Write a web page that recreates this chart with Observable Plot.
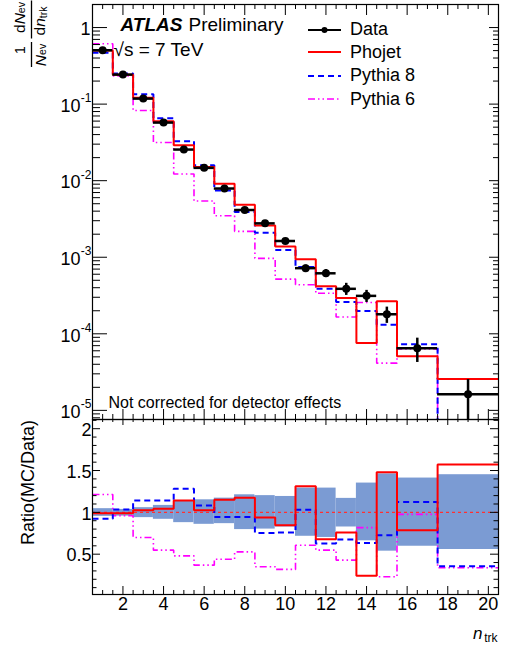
<!DOCTYPE html>
<html><head><meta charset="utf-8">
<script src="https://cdn.jsdelivr.net/npm/d3@7"></script>
<script src="https://cdn.jsdelivr.net/npm/@observablehq/plot@0.6"></script>
<style>
body{margin:0;background:#fff;font-family:"Liberation Sans",Arial,Helvetica,sans-serif;}
#wrap{position:relative;width:506px;height:653px;overflow:hidden;background:#fff;}
#top,#bot{position:absolute;left:0;}
#top{top:0;}
#bot{top:419px;}
#ylab{position:absolute;left:0;top:0;}
.lg{position:absolute;left:308px;height:23px;display:flex;align-items:center;font-size:18px;color:#000;}
.lg svg{margin-right:9px;}
</style></head><body>
<div id="wrap">
<div id="top"></div><div id="bot"></div>
<svg id="ylab" width="60" height="75" font-family="Liberation Sans, Arial, Helvetica, sans-serif" fill="#000">
  <g transform="translate(24.5,17.5) rotate(-90)"><text text-anchor="middle" font-size="15.5">d<tspan font-style="italic">N</tspan><tspan font-size="10.5" dy="0.5">ev</tspan></text></g>
  <line x1="31.5" y1="0.5" x2="31.5" y2="38.5" stroke="#000" stroke-width="1.3"/>
  <g transform="translate(45,21) rotate(-90)"><text text-anchor="middle" font-size="15.5">d<tspan font-style="italic">n</tspan><tspan font-size="10.5" dy="2">trk</tspan></text></g>
  <g transform="translate(24.5,50) rotate(-90)"><text text-anchor="middle" font-size="14">1</text></g>
  <line x1="31.5" y1="42" x2="31.5" y2="67" stroke="#000" stroke-width="1.3"/>
  <g transform="translate(45.5,55) rotate(-90)"><text text-anchor="middle" font-size="15.5"><tspan font-style="italic">N</tspan><tspan font-size="10.5" dy="0.5">ev</tspan></text></g>
</svg>
<div class="lg" style="top:18px"><svg width="33" height="10"><line x1="0" y1="5" x2="33" y2="5" stroke="#000" stroke-width="2"/><circle cx="16.5" cy="5" r="3" fill="#000"/></svg><span>Data</span></div>
<div class="lg" style="top:40.5px"><svg width="33" height="10"><line x1="0" y1="5" x2="33" y2="5" stroke="#ff0000" stroke-width="2"/></svg><span>Phojet</span></div>
<div class="lg" style="top:64px"><svg width="33" height="10"><line x1="0" y1="5" x2="33" y2="5" stroke="#0000ff" stroke-width="2" stroke-dasharray="6,4"/></svg><span>Pythia 8</span></div>
<div class="lg" style="top:87.5px"><svg width="33" height="10"><line x1="0" y1="5" x2="33" y2="5" stroke="#ff00ff" stroke-width="1.6" stroke-dasharray="7,3,1.5,3,1.5,3"/></svg><span>Pythia 6</span></div>
</div>
<script>
// ---- data ----
const binLo = [0.5,1.5,2.5,3.5,4.5,5.5,6.5,7.5,8.5,9.5,10.5,11.5,12.5,13.5,14.5,15.5,17.5];
const binHi = [1.5,2.5,3.5,4.5,5.5,6.5,7.5,8.5,9.5,10.5,11.5,12.5,13.5,14.5,15.5,17.5,20.5];
const nTrk  = [1,2,3,4,5,6,7,8,9,10,11,12,13,14,15,16.5,19];
const dataVal = [0.505,0.243,0.118,0.0574,0.0255,0.0147,0.0079,0.00414,0.00277,0.00163,7.2e-4,6.17e-4,3.87e-4,3.13e-4,1.80e-4,6.5e-5,1.63e-5];
const dataRelErr = [0.004,0.005,0.006,0.008,0.01,0.012,0.015,0.02,0.04,0.06,0.1,0.12,0.18,0.18,0.24,0.35,0.55];
const phojetVal  = [0.50,0.241,0.121,0.0599,0.0291,0.01505,0.00909,0.00486,0.00260,0.00138,9.45e-4,4.19e-4,2.93e-4,7.6e-5,2.66e-4,5.1e-5,2.56e-5];
const pythia8Val = [0.467,0.2515,0.1349,0.0656,0.0327,0.01592,0.00746,0.00391,0.00209,0.00124,7.43e-4,3.87e-4,2.61e-4,1.99e-4,1.31e-4,7.3e-5,5.8e-6];
const pythia6Val = [0.613,0.233,0.0826,0.0315,0.01224,0.00542,0.00348,0.00218,9.67e-4,5.18e-4,4.37e-4,3.38e-4,1.66e-4,2.56e-4,4.14e-5,6.34e-5,5.5e-6];
const ratioPhojet  = [0.99,0.99,1.024,1.044,1.143,1.024,1.15,1.175,0.937,0.845,1.313,0.679,0.758,0.242,1.48,0.786,1.571];
const ratioPythia8 = [0.925,1.035,1.143,1.143,1.282,1.083,0.944,0.944,0.754,0.76,1.032,0.627,0.675,0.635,0.726,1.123,0.357];
const ratioPythia6 = [1.214,0.96,0.70,0.548,0.48,0.369,0.44,0.527,0.349,0.318,0.607,0.548,0.429,0.818,0.23,0.976,0.337];
const bandLo = [0.952,0.955,0.937,0.917,0.877,0.857,0.865,0.794,0.80,0.825,0.714,0.70,0.825,0.66,0.536,0.595,0.556];
const bandHi = [1.044,1.035,1.056,1.083,1.135,1.15,1.17,1.21,1.2,1.19,1.29,1.29,1.167,1.35,1.46,1.41,1.45];
// tick labels
const xTickLabels = [2,4,6,8,10,12,14,16,18,20];
const logTickLabels = [1e-5,1e-4,1e-3,1e-2,1e-1,1];
const ratioTickLabels = [0.5,1,1.5,2];

// ---- helpers ----
const font = '"Liberation Sans", Arial, Helvetica, sans-serif';
const W = 506, ML = 92, MR = 8, innerW = W - ML - MR;
const steps = vals => vals.flatMap((v, i) => [{x: binLo[i], y: v}, {x: binHi[i], y: v}]);
const xMinor = d3.range(0.5, 20.51, 0.5).filter(v => !xTickLabels.includes(v));
const logMinor = [];
for (let e = -6; e <= 0; e++) for (let k = 2; k <= 9; k++) { const v = k * Math.pow(10, e); if (v >= 7.6e-6 && v <= 2.0) logMinor.push(v); }
const ratioMinor = d3.range(1, 22).map(i => i / 10).filter(v => !ratioTickLabels.some(t => Math.abs(t - v) < 1e-9));
const tick = {stroke: "#000", strokeWidth: 1};
const lineStyle = {strokeLinecap: "butt", strokeLinejoin: "miter", clip: true};
const sPho = {stroke: "#ff0000", strokeWidth: 2};
const sPy8 = {stroke: "#0000ff", strokeWidth: 2, strokeDasharray: "6,4"};
const sPy6 = {stroke: "#ff00ff", strokeWidth: 1.6, strokeDasharray: "7,3,1.5,3,1.5,3"};

const dataRows = nTrk.map((n, i) => ({n, v: dataVal[i], lo: binLo[i], hi: binHi[i],
  e1: dataVal[i] * (1 - dataRelErr[i]), e2: dataVal[i] * (1 + dataRelErr[i])}));

// ---- top panel ----
const topH = 419, topMT = 4, topInner = topH - topMT;
const topPlot = Plot.plot({
  width: W, height: topH, marginLeft: ML, marginRight: MR, marginTop: topMT, marginBottom: 0,
  style: {fontFamily: font, background: "transparent", overflow: "visible"},
  x: {domain: [0.5, 20.5], axis: null},
  y: {type: "log", domain: [7.6e-6, 2.0], axis: null},
  marks: [
    Plot.line(steps(pythia6Val), {x: "x", y: "y", ...sPy6, ...lineStyle}),
    Plot.line(steps(pythia8Val), {x: "x", y: "y", ...sPy8, ...lineStyle}),
    Plot.line(steps(phojetVal), {x: "x", y: "y", ...sPho, ...lineStyle}),
    Plot.ruleY(dataRows, {y: "v", x1: "lo", x2: "hi", stroke: "#000", strokeWidth: 2.5, clip: true}),
    Plot.ruleX(dataRows, {x: "n", y1: "e1", y2: "e2", stroke: "#000", strokeWidth: 2.5, clip: true}),
    Plot.dot(dataRows, {x: "n", y: "v", r: 4, fill: "#000", stroke: "none"}),
    Plot.frame({stroke: "#000", strokeWidth: 1.2}),
    // y ticks left/right
    Plot.ruleY(logTickLabels, {...tick, insetRight: innerW - 15}),
    Plot.ruleY(logMinor, {...tick, insetRight: innerW - 8}),
    Plot.ruleY(logTickLabels, {...tick, insetLeft: innerW - 9}),
    Plot.ruleY(logMinor, {...tick, insetLeft: innerW - 5}),
    // x ticks top/bottom
    Plot.ruleX(xTickLabels, {...tick, insetBottom: topInner - 11}),
    Plot.ruleX(xMinor, {...tick, insetBottom: topInner - 5}),
    Plot.ruleX(xTickLabels, {...tick, insetTop: topInner - 10}),
    Plot.ruleX(xMinor, {...tick, insetTop: topInner - 5}),
    // y tick labels
    Plot.text([1], {y: d => d, text: () => "1", frameAnchor: "left", dx: -2, dy: 1.5, textAnchor: "end", lineAnchor: "middle", fontSize: 18}),
    Plot.text(logTickLabels.filter(d => d !== 1), {y: d => d, text: () => "10", frameAnchor: "left", dx: -12, dy: 2, textAnchor: "end", lineAnchor: "middle", fontSize: 18}),
    Plot.text(logTickLabels.filter(d => d !== 1), {y: d => d, text: d => String(Math.round(Math.log10(d))), frameAnchor: "left", dx: -1, dy: -6, textAnchor: "end", lineAnchor: "middle", fontSize: 12}),
    // annotations
    Plot.text(["ATLAS"], {frameAnchor: "top-left", dx: 28, dy: 26, textAnchor: "start", lineAnchor: "bottom", fontSize: 19, fontWeight: "bold", fontStyle: "italic"}),
    Plot.text(["Preliminary"], {frameAnchor: "top-left", dx: 96, dy: 26, textAnchor: "start", lineAnchor: "bottom", fontSize: 19}),
    Plot.text(["\u221As = 7 TeV"], {frameAnchor: "top-left", dx: 21, dy: 51, textAnchor: "start", lineAnchor: "bottom", fontSize: 19}),
    Plot.text(["Not corrected for detector effects"], {frameAnchor: "bottom-left", dx: 16, dy: -11.3, textAnchor: "start", lineAnchor: "bottom", fontSize: 16})
  ]
});
document.getElementById("top").appendChild(topPlot);

// ---- ratio panel ----
const botH = 234, botMB = 59, botInner = botH - botMB;
const bandRows = binLo.map((lo, i) => ({lo, hi: binHi[i], bl: bandLo[i], bh: bandHi[i]}));
const botPlot = Plot.plot({
  width: W, height: botH, marginLeft: ML, marginRight: MR, marginTop: 0, marginBottom: botMB,
  style: {fontFamily: font, background: "transparent", overflow: "visible"},
  x: {domain: [0.5, 20.5], axis: null},
  y: {domain: [0.018, 2.11], axis: null},
  marks: [
    Plot.rect(bandRows, {x1: "lo", x2: "hi", y1: "bl", y2: "bh", fill: "#7b9bd3"}),
    Plot.ruleY([1], {stroke: "#ff3030", strokeWidth: 1.2, strokeDasharray: "3,3"}),
    Plot.line(steps(ratioPythia6), {x: "x", y: "y", ...sPy6, ...lineStyle}),
    Plot.line(steps(ratioPythia8), {x: "x", y: "y", ...sPy8, ...lineStyle}),
    Plot.line(steps(ratioPhojet), {x: "x", y: "y", ...sPho, ...lineStyle}),
    Plot.frame({stroke: "#000", strokeWidth: 1.2}),
    Plot.ruleY(ratioTickLabels, {...tick, insetRight: innerW - 8}),
    Plot.ruleY(ratioMinor, {...tick, insetRight: innerW - 4.5}),
    Plot.ruleY(ratioTickLabels, {...tick, insetLeft: innerW - 8}),
    Plot.ruleY(ratioMinor, {...tick, insetLeft: innerW - 4.5}),
    Plot.ruleX(xTickLabels, {...tick, insetBottom: botInner - 6}),
    Plot.ruleX(xMinor, {...tick, insetBottom: botInner - 3}),
    Plot.ruleX(xTickLabels, {...tick, insetTop: botInner - 8}),
    Plot.ruleX(xMinor, {...tick, insetTop: botInner - 4}),
    Plot.text(ratioTickLabels, {y: d => d, text: d => String(d), frameAnchor: "left", dx: -1, dy: 1.5, textAnchor: "end", lineAnchor: "middle", fontSize: 18}),
    Plot.text(xTickLabels, {x: d => d, text: d => String(d), frameAnchor: "bottom", dy: 2.5, lineAnchor: "top", fontSize: 18}),
    Plot.text(["Ratio(MC/Data)"], {frameAnchor: "top-left", dx: -59, dy: 63, rotate: -90, textAnchor: "middle", lineAnchor: "bottom", fontSize: 18}),
    Plot.text(["n"], {frameAnchor: "bottom-right", dx: -16, dy: 44, textAnchor: "end", lineAnchor: "bottom", fontSize: 17, fontStyle: "italic"}),
    Plot.text(["trk"], {frameAnchor: "bottom-right", dx: -1, dy: 47, textAnchor: "end", lineAnchor: "bottom", fontSize: 12})
  ]
});
document.getElementById("bot").appendChild(botPlot);
</script>
</body></html>
